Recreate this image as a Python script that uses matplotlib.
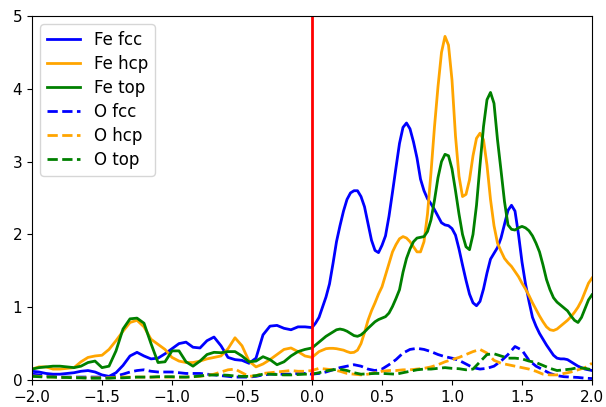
import numpy as np
import matplotlib
matplotlib.use("Agg")
import matplotlib.pyplot as plt

plt.rcParams["font.size"] = 11

# energy grids: Fe curves coarse below 0, finer above 0; O curves on 0.05 grid
x_fe = np.concatenate([np.linspace(-2.0, -0.05, 40), np.linspace(0.0, 2.0, 81)])
x_o = np.linspace(-2.0, 2.0, 81)

fe_fcc = [
    0.12, 0.11, 0.09, 0.08, 0.08, 0.09, 0.10, 0.12, 0.13, 0.11,
    0.07, 0.05, 0.10, 0.20, 0.33, 0.38, 0.33, 0.29, 0.30, 0.36,
    0.43, 0.50, 0.52, 0.45, 0.44, 0.54, 0.59, 0.47, 0.31, 0.28,
    0.27, 0.23, 0.30, 0.62, 0.74, 0.75, 0.71, 0.69, 0.73, 0.73,
    # x >= 0
    0.72, 0.78, 0.86, 1.00, 1.14, 1.32, 1.60, 1.90, 2.12, 2.32,
    2.48, 2.57, 2.60, 2.60, 2.52, 2.38, 2.15, 1.92, 1.78, 1.75,
    1.85, 1.98, 2.25, 2.58, 2.92, 3.25, 3.47, 3.53, 3.45, 3.27,
    3.05, 2.76, 2.60, 2.49, 2.42, 2.34, 2.25, 2.16, 2.13, 2.12,
    2.08, 1.99, 1.80, 1.58, 1.37, 1.18, 1.06, 1.02, 1.08, 1.25,
    1.47, 1.66, 1.74, 1.82, 1.95, 2.14, 2.33, 2.40, 2.32, 2.00,
    1.62, 1.32, 1.08, 0.86, 0.74, 0.64, 0.56, 0.48, 0.41, 0.34,
    0.30, 0.29, 0.29, 0.28, 0.25, 0.22, 0.19, 0.17, 0.15, 0.14,
    0.13,
]

fe_hcp = [
    0.15, 0.18, 0.18, 0.15, 0.15, 0.16, 0.17, 0.25, 0.31, 0.33,
    0.34, 0.42, 0.54, 0.67, 0.79, 0.82, 0.73, 0.56, 0.49, 0.42,
    0.31, 0.26, 0.24, 0.24, 0.26, 0.29, 0.31, 0.33, 0.43, 0.58,
    0.47, 0.26, 0.18, 0.22, 0.28, 0.35, 0.42, 0.44, 0.39, 0.33,
    # x >= 0
    0.31, 0.35, 0.39, 0.41, 0.43, 0.435, 0.435, 0.43, 0.42, 0.41,
    0.39, 0.375, 0.38, 0.41, 0.50, 0.65, 0.82, 0.95, 1.06, 1.18,
    1.28, 1.44, 1.60, 1.76, 1.86, 1.94, 1.97, 1.95, 1.90, 1.83,
    1.76, 1.76, 1.90, 2.28, 2.85, 3.48, 4.03, 4.50, 4.72, 4.60,
    4.12, 3.35, 2.80, 2.52, 2.55, 2.75, 3.08, 3.32, 3.39, 3.30,
    2.95, 2.48, 2.12, 1.88, 1.77, 1.67, 1.61, 1.56, 1.49, 1.42,
    1.33, 1.25, 1.16, 1.06, 0.97, 0.88, 0.80, 0.73, 0.69, 0.68,
    0.70, 0.74, 0.78, 0.82, 0.87, 0.93, 1.00, 1.09, 1.21, 1.33,
    1.40,
]

fe_top = [
    0.15, 0.17, 0.18, 0.19, 0.19, 0.18, 0.17, 0.19, 0.24, 0.26,
    0.17, 0.19, 0.40, 0.70, 0.84, 0.85, 0.78, 0.50, 0.24, 0.25,
    0.40, 0.40, 0.25, 0.19, 0.26, 0.35, 0.38, 0.375, 0.39, 0.39,
    0.33, 0.25, 0.26, 0.32, 0.28, 0.21, 0.25, 0.33, 0.39, 0.42,
    # x >= 0
    0.44, 0.48, 0.52, 0.56, 0.60, 0.63, 0.66, 0.69, 0.70, 0.69,
    0.67, 0.64, 0.61, 0.60, 0.62, 0.66, 0.71, 0.755, 0.80, 0.83,
    0.85, 0.87, 0.92, 1.01, 1.12, 1.24, 1.48, 1.67, 1.80, 1.90,
    1.95, 1.96, 1.97, 2.04, 2.20, 2.47, 2.78, 3.00, 3.10, 3.08,
    2.90, 2.60, 2.28, 2.00, 1.83, 1.79, 2.00, 2.40, 2.95, 3.48,
    3.85, 3.95, 3.80, 3.30, 2.88, 2.45, 2.13, 2.07, 2.06, 2.09,
    2.11, 2.09, 2.05, 1.98, 1.88, 1.76, 1.58, 1.38, 1.24, 1.13,
    1.07, 1.03, 0.99, 0.95, 0.88, 0.82, 0.79, 0.86, 0.98, 1.10,
    1.17,
]

o_fcc = [
    0.08, 0.07, 0.06, 0.05, 0.04, 0.04, 0.04, 0.04, 0.04, 0.04,
    0.04, 0.04, 0.055, 0.08, 0.11, 0.13, 0.14, 0.12, 0.11, 0.11,
    0.11, 0.10, 0.09, 0.09, 0.09, 0.08, 0.07, 0.06, 0.05, 0.04,
    0.04, 0.04, 0.05, 0.07, 0.08, 0.08, 0.08, 0.08, 0.09, 0.09,
    0.08, 0.09, 0.11, 0.14, 0.17, 0.19, 0.21, 0.19, 0.15, 0.13,
    0.15, 0.21, 0.28, 0.37, 0.42, 0.435, 0.42, 0.39, 0.35, 0.32,
    0.30, 0.27, 0.22, 0.17, 0.15, 0.16, 0.19, 0.26, 0.35, 0.46,
    0.41, 0.27, 0.19, 0.14, 0.09, 0.06, 0.045, 0.04, 0.035, 0.025,
    0.02,
]

o_hcp = [
    0.055, 0.05, 0.045, 0.04, 0.04, 0.035, 0.035, 0.03, 0.03, 0.03,
    0.03, 0.03, 0.035, 0.04, 0.04, 0.04, 0.04, 0.04, 0.04, 0.04,
    0.04, 0.04, 0.04, 0.045, 0.05, 0.065, 0.08, 0.11, 0.14, 0.15,
    0.10, 0.05, 0.06, 0.09, 0.10, 0.11, 0.12, 0.13, 0.12, 0.12,
    0.13, 0.16, 0.15, 0.14, 0.12, 0.09, 0.08, 0.07, 0.08, 0.10,
    0.12, 0.13, 0.13, 0.14, 0.14, 0.15, 0.16, 0.18, 0.21, 0.25,
    0.28, 0.31, 0.35, 0.39, 0.42, 0.37, 0.27, 0.23, 0.21, 0.19,
    0.17, 0.15, 0.12, 0.08, 0.07, 0.07, 0.09, 0.11, 0.14, 0.17,
    0.23,
]

o_top = [
    0.05, 0.045, 0.04, 0.04, 0.035, 0.035, 0.03, 0.03, 0.025, 0.025,
    0.025, 0.025, 0.03, 0.03, 0.035, 0.04, 0.04, 0.04, 0.045, 0.045,
    0.045, 0.04, 0.04, 0.045, 0.055, 0.065, 0.07, 0.07, 0.065, 0.055,
    0.05, 0.05, 0.06, 0.08, 0.08, 0.075, 0.07, 0.07, 0.075, 0.08,
    0.08, 0.10, 0.125, 0.14, 0.15, 0.13, 0.10, 0.08, 0.085, 0.09,
    0.09, 0.085, 0.08, 0.10, 0.12, 0.14, 0.15, 0.15, 0.16, 0.17,
    0.16, 0.155, 0.14, 0.15, 0.25, 0.35, 0.36, 0.33, 0.30, 0.30,
    0.29, 0.26, 0.24, 0.20, 0.16, 0.13, 0.14, 0.15, 0.17, 0.16,
    0.14,
]

fig = plt.figure(figsize=(6.06, 4.07), dpi=100)
ax = fig.add_axes([32/606, 1-380/407, 560/606, 364/407])

ax.plot(x_fe, fe_fcc, color="blue", lw=2, label="Fe fcc")
ax.plot(x_fe, fe_hcp, color="orange", lw=2, label="Fe hcp")
ax.plot(x_fe, fe_top, color="green", lw=2, label="Fe top")
ax.plot(x_o, o_fcc, color="blue", lw=2, ls="--", label="O fcc")
ax.plot(x_o, o_hcp, color="orange", lw=2, ls="--", label="O hcp")
ax.plot(x_o, o_top, color="green", lw=2, ls="--", label="O top")
ax.axvline(0, color="red", lw=2)

ax.set_xlim(-2, 2)
ax.set_ylim(0, 5)
ax.set_xticks(np.arange(-2.0, 2.01, 0.5))
ax.set_yticks(range(6))
ax.legend(loc="upper left", fontsize=12, labelspacing=0.36)

fig.savefig("out.png", dpi=100)
